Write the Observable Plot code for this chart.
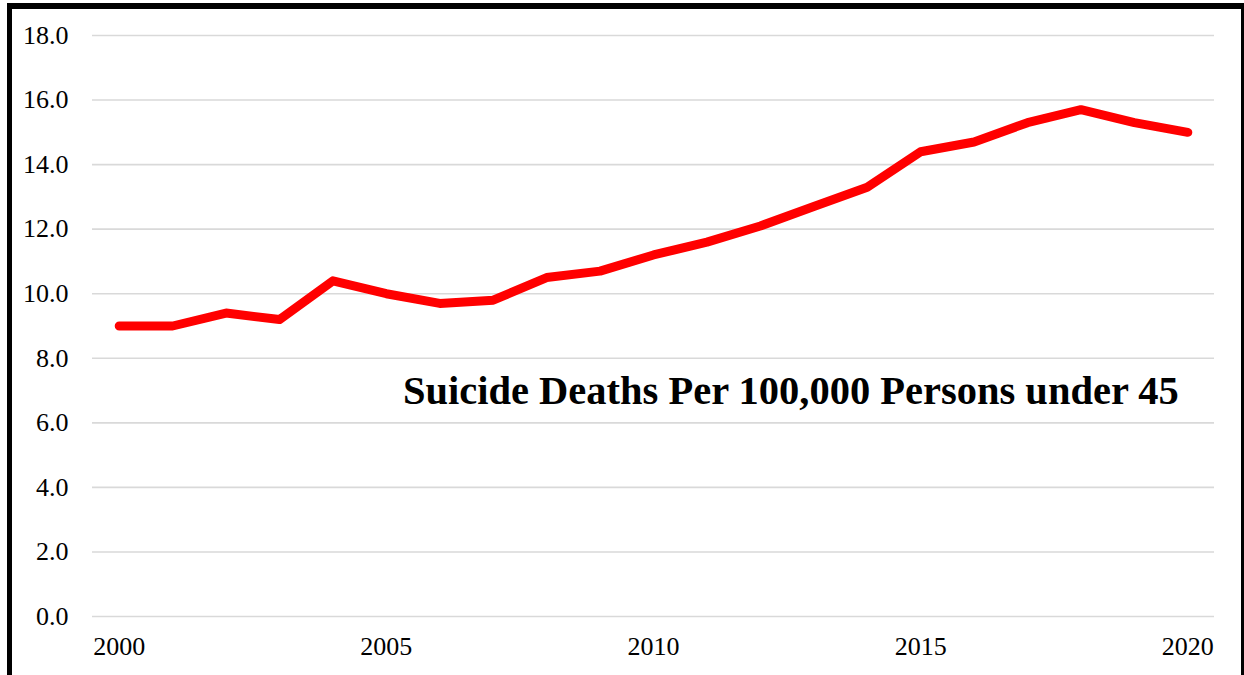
<!DOCTYPE html>
<html>
<head>
<meta charset="utf-8">
<script src="https://cdn.jsdelivr.net/npm/d3@7"></script>
<script src="https://cdn.jsdelivr.net/npm/@observablehq/plot@0.6"></script>
<style>
  html, body { margin: 0; padding: 0; background: #fff; overflow: hidden; }
  #frame {
    position: absolute; left: 7px; top: 3px;
    border-left: 5px solid #000; border-top: 6px solid #000; border-right: 3px solid #000;
    width: 1229px; height: 666px; background: #fff;
  }
  #frame svg { display: block; }
</style>
</head>
<body>
<div id="frame"></div>
<script>
const years = [2000,2001,2002,2003,2004,2005,2006,2007,2008,2009,2010,2011,2012,2013,2014,2015,2016,2017,2018,2019,2020];
const rates = [9.0,9.0,9.4,9.2,10.4,10.0,9.7,9.8,10.5,10.7,11.2,11.6,12.1,12.7,13.3,14.4,14.7,15.3,15.7,15.3,15.0];
const xTicks = [2000,2005,2010,2015,2020];
const yTicks = [0,2,4,6,8,10,12,14,16,18];
const title = "Suicide Deaths Per 100,000 Persons under 45";

const data = years.map((y, i) => ({year: y, rate: rates[i]}));

const chart = Plot.plot({
  width: 1229,
  height: 666,
  marginLeft: 80,
  marginRight: 27,
  marginTop: 26,
  marginBottom: 59,
  style: {fontFamily: "'Liberation Serif', serif", fontSize: "26px", color: "#000", background: "#fff"},
  x: {type: "point", domain: years, padding: 0.5, round: false, label: null},
  y: {domain: [0, 18], label: null},
  marks: [
    Plot.gridY(yTicks, {stroke: "#d9d9d9", strokeOpacity: 1, strokeWidth: 1.6}),
    Plot.axisY({ticks: yTicks, tickSize: 0, tickPadding: 24, tickFormat: d => d.toFixed(1), label: null, fontSize: 26}),
    Plot.axisX({ticks: xTicks, tickSize: 0, tickPadding: 20, tickFormat: d => String(d), label: null, fontSize: 26}),
    Plot.line(data, {x: "year", y: "rate", stroke: "#ff0000", strokeWidth: 9, strokeLinecap: "round", strokeLinejoin: "round"}),
    Plot.text([{year: 2020, rate: 7.0, label: title}], {
      x: "year", y: "rate", text: "label", textAnchor: "end", dx: -9,
      fontFamily: "'Liberation Serif', serif", fontWeight: "bold", fontSize: 40.5, fill: "#000"
    })
  ]
});
document.getElementById("frame").appendChild(chart);
</script>
</body>
</html>
